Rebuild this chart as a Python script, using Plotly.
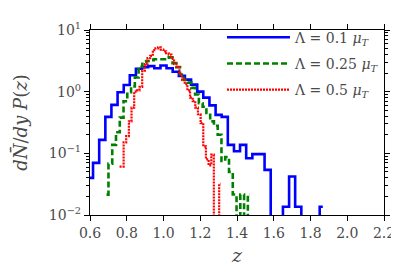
import numpy as np
import plotly.graph_objects as go

# bin centres (z) and dN/dy P(z) values
z_l01 = [0.600, 0.633, 0.667, 0.700, 0.733, 0.767, 0.800, 0.833, 0.867, 0.900,
         0.933, 0.967, 1.000, 1.033, 1.067, 1.100, 1.133, 1.167, 1.200, 1.233,
         1.267, 1.300, 1.333, 1.367, 1.400, 1.433, 1.467, 1.500, 1.533, 1.567,
         1.600, 1.633, 1.667, 1.700, 1.733, 1.767, 1.800, 1.833, 1.867]
p_l01 = [0.040, 0.070, 0.165, 0.39, 0.61, 0.98, 1.28, 1.85, 2.35, 2.5,
         2.6, 2.4, 2.65, 2.4, 2.1, 1.8, 1.57, 1.3, 1.0, 0.8,
         0.6, 0.42, 0.39, 0.137, 0.108, 0.137, 0.083, 0.097, 0.097, 0.054,
         0, 0, 0.0136, 0.042, 0.0136, 0, 0, 0, 0.0136]

z_l025 = [0.690, 0.711, 0.731, 0.752, 0.772, 0.793, 0.813, 0.834, 0.854, 0.875,
          0.895, 0.916, 0.936, 0.957, 0.977, 0.998, 1.018, 1.039, 1.059, 1.080,
          1.100, 1.121, 1.141, 1.162, 1.182, 1.203, 1.223, 1.244, 1.264, 1.285,
          1.305, 1.326, 1.346, 1.367, 1.387, 1.408, 1.428, 1.449, 1.469]
p_l025 = [0.0214, 0.068, 0.137, 0.22, 0.38, 0.70, 0.98, 1.22, 1.7, 2.55,
          3.0, 3.15, 3.25, 3.35, 3.35, 3.35, 3.55, 3.6, 2.9, 2.5,
          1.9, 1.55, 1.40, 1.15, 0.9, 0.65, 0.57, 0.45, 0.33, 0.28,
          0.2, 0.075, 0.087, 0.05, 0.0215, 0, 0.0215, 0, 0.0215]

z_l05 = [0.761, 0.776, 0.790, 0.804, 0.819, 0.833, 0.848, 0.862, 0.877, 0.891,
         0.906, 0.920, 0.935, 0.949, 0.963, 0.978, 0.992, 1.007, 1.021, 1.036,
         1.050, 1.065, 1.079, 1.094, 1.108, 1.123, 1.137, 1.152, 1.166, 1.180,
         1.195, 1.209, 1.224, 1.238, 1.253, 1.267, 1.281, 1.296, 1.310]
p_l05 = [0.061, 0.061, 0.15, 0.19, 0.33, 0.55, 1.0, 1.05, 1.2, 2.2,
         2.8, 3.5, 3.8, 4.7, 5.05, 5.25, 4.8, 4.5, 4.2, 4.0,
         3.4, 2.8, 2.5, 1.9, 1.55, 1.32, 1.05, 0.8, 0.70, 0.55,
         0.43, 0.31, 0.13, 0.08, 0.064, 0.095, 0, 0, 0.032]

x_ticks = [0.6, 0.8, 1.0, 1.2, 1.4, 1.6, 1.8, 2.0, 2.2]
x_ticktext = ["0.6", "0.8", "1.0", "1.2", "1.4", "1.6", "1.8", "2.0", "2.2"]
y_ticks = [1e-2, 1e-1, 1e0, 1e1]
y_ticktext = ["10<sup>\u22122</sup>", "10<sup>\u22121</sup>", "10<sup>0</sup>", "10<sup>1</sup>"]
y_minor = [m * 10.0 ** e for e in (-2, -1, 0) for m in range(2, 10)]

labels = ["\u039b = 0.1 <i>\u03bc<sub>T</sub></i>",
          "\u039b = 0.25 <i>\u03bc<sub>T</sub></i>",
          "\u039b = 0.5 <i>\u03bc<sub>T</sub></i>"]

SERIF = "DejaVu Serif, serif"
TXT = "#4a4a4a"

def floor0(v):
    # empty bins (zero) drop below the log axis, as in the reference
    a = np.asarray(v, dtype=float)
    return np.where(a > 0, a, 1e-6)

fig = go.Figure()
series = [
    (z_l01, p_l01, labels[0], dict(color="#0000ff", width=2.6, dash="solid")),
    (z_l025, p_l025, labels[1], dict(color="#008000", width=2.6, dash="6px,3px")),
    (z_l05, p_l05, labels[2], dict(color="#ff0000", width=2.2, dash="2px,1px")),
]
for i, (zz, pp, name, line) in enumerate(series):
    fig.add_trace(go.Scatter(x=zz, y=floor0(pp), mode="lines", name=name,
                             line=dict(shape="hvh", **line),
                             legendgroup=f"g{i}"))

axis_common = dict(showline=True, linecolor="black", linewidth=1.2, mirror="ticks",
                   ticks="outside", ticklen=5, tickwidth=1, tickcolor="black",
                   showgrid=False, zeroline=False,
                   tickfont=dict(family=SERIF, size=14, color=TXT))

fig.update_xaxes(range=[0.6, 2.2], tickmode="array", tickvals=x_ticks, ticktext=x_ticktext,
                 title=dict(text="<i>z</i>", font=dict(family=SERIF, size=19, color=TXT),
                            standoff=8),
                 **axis_common)
fig.update_yaxes(type="log", range=[-2, 1], tickmode="array", tickvals=y_ticks,
                 ticktext=y_ticktext,
                 minor=dict(ticks="outside", ticklen=2.5, tickwidth=1, tickcolor="black",
                            tickmode="array", tickvals=y_minor, showgrid=False),
                 title=dict(text="<i>dN\u0304</i>/<i>dy</i> <i>P</i>(<i>z</i>)",
                            font=dict(family=SERIF, size=18, color=TXT), standoff=16),
                 **axis_common)

fig.update_layout(
    width=399, height=266,
    margin=dict(l=76, r=15, t=12, b=56),
    plot_bgcolor="white", paper_bgcolor="white",
    showlegend=True,
    legend=dict(x=0.449, xanchor="left", y=1.045, yanchor="top",
                bgcolor="rgba(0,0,0,0)", borderwidth=0,
                font=dict(family=SERIF, size=14, color=TXT),
                traceorder="grouped", tracegroupgap=5, itemwidth=63),
)

fig.write_html("out.html")
